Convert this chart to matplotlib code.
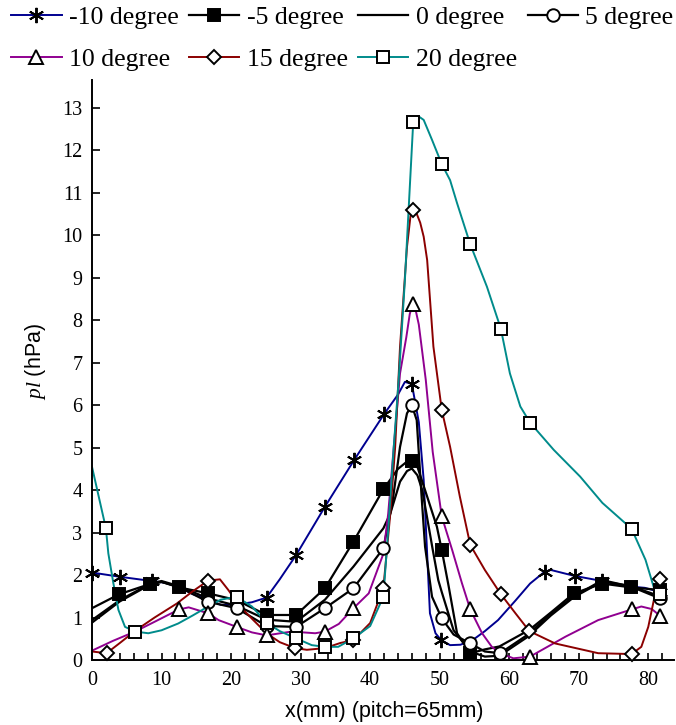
import matplotlib
matplotlib.use("Agg")
import matplotlib.pyplot as plt
from matplotlib.ticker import MultipleLocator

plt.rcParams['mathtext.fontset'] = 'custom'
plt.rcParams['mathtext.it'] = 'Liberation Serif:italic'
plt.rcParams['mathtext.rm'] = 'Liberation Sans'

# ---- pressure profiles, x in mm ----
# -10 degree
x_m10 = [0, 4, 8.6, 10.5, 12.5, 14.5, 16.7, 18.5, 20.6, 23, 25.1, 27, 29.35, 33.5, 37.7, 42, 44, 45, 46,
         47, 47.7, 48.6, 49.4, 50.2, 51.5, 53, 55, 56.5, 58.4, 60.9, 63, 65.1, 66, 69.4, 73.4, 76.7, 79.5, 81.7]
y_m10 = [2.06, 1.96, 1.86, 1.82, 1.72, 1.55, 1.42, 1.3, 1.3, 1.36, 1.47, 1.9, 2.47, 3.61, 4.71, 5.79, 6.25, 6.55, 6.5,
         5.6, 4.24, 1.1, 0.63, 0.47, 0.35, 0.36, 0.5, 0.68, 0.94, 1.4, 1.8, 2.08, 2.12, 1.98, 1.86, 1.74, 1.7, 1.6]
mx_m10 = [0, 4, 8.6, 25.1, 29.35, 33.5, 37.7, 42, 46, 50.2, 65.1, 69.4, 73.4, 81.7]
my_m10 = [2.06, 1.96, 1.86, 1.47, 2.47, 3.61, 4.71, 5.79, 6.5, 0.47, 2.08, 1.98, 1.86, 1.6]

# -5 degree
x_m5 = [0, 3.93, 8.35, 10, 12.5, 16.7, 20.8, 25.1, 29.35, 33.5, 37.6, 41.9, 44, 45.2, 46, 46.8, 47.9, 49.6, 50.3,
        51.3, 52.5, 54.4, 56.5, 58.6, 62.9, 66, 69.3, 73.4, 77.5, 81.7]
y_m5 = [1.22, 1.55, 1.79, 1.84, 1.71, 1.57, 1.41, 1.06, 1.06, 1.69, 2.79, 4.02, 4.5, 4.66, 4.69, 4.55, 4.0, 3.14, 2.59,
        1.73, 0.63, 0.16, 0.25, 0.32, 0.71, 1.12, 1.57, 1.8, 1.71, 1.65]
mx_m5 = [3.93, 8.35, 12.5, 16.7, 20.8, 25.1, 29.35, 33.5, 37.6, 41.9, 46, 50.3, 54.4, 69.3, 73.4, 77.5, 81.7]
my_m5 = [1.55, 1.79, 1.71, 1.57, 1.41, 1.06, 1.06, 1.69, 2.79, 4.02, 4.69, 2.59, 0.16, 1.57, 1.8, 1.71, 1.65]

# 0 degree
x_0 = [0, 4, 8.4, 10, 12.5, 16.7, 20.8, 25.1, 29.35, 33.5, 37.6, 41.9, 42.9, 44.3, 45.3, 46, 46.8, 47.5, 49, 49.8,
       50.3, 52, 54.4, 56.5, 58.6, 62.7, 66, 69.3, 73.4, 77.5, 81.7]
y_0 = [0.94, 1.41, 1.8, 1.86, 1.74, 1.45, 1.28, 0.95, 0.9, 1.42, 2.2, 3.1, 3.45, 4.2, 4.45, 4.51, 4.35, 4.0, 2.6, 1.88,
       1.6, 0.7, 0.2, 0.08, 0.1, 0.55, 1.05, 1.48, 1.85, 1.74, 1.5]

# 5 degree
x_5 = [0, 4, 8.4, 10, 12.5, 16.7, 20.8, 25.1, 29.35, 33.5, 37.6, 41.9, 43.2, 44.3, 45.3, 46, 46.7, 47.4, 47.9, 48.9,
       50.3, 52, 54.4, 56.5, 58.7, 62.7, 66, 69.3, 73.4, 77.5, 81.7]
y_5 = [0.88, 1.38, 1.78, 1.84, 1.72, 1.37, 1.22, 0.8, 0.78, 1.22, 1.69, 2.63, 3.7, 5.02, 5.81, 6.0, 5.65, 3.85, 2.67,
       1.49, 0.98, 0.6, 0.39, 0.2, 0.16, 0.6, 1.1, 1.5, 1.88, 1.73, 1.45]
mx_5 = [16.7, 20.8, 25.1, 29.35, 33.5, 37.6, 41.9, 46, 50.3, 54.4, 58.7, 81.7]
my_5 = [1.37, 1.22, 0.8, 0.78, 1.22, 1.69, 2.63, 6.0, 0.98, 0.39, 0.16, 1.45]

# 10 degree
x_10 = [0, 3, 6.2, 9, 12.5, 13.9, 16.7, 18.2, 20.8, 23, 25.1, 28.7, 32.1, 33.5, 35.5, 37.6, 39.8, 41.9, 42.6,
        43.4, 44.3, 45.2, 45.7, 46.1, 46.6, 47, 48, 49, 50.3, 51.8, 53.2, 54.4, 56.1, 57.5, 58.7, 60.6, 63, 68.1,
        72.8, 77.6, 79, 80.5, 81.7]
y_10 = [0.22, 0.45, 0.67, 0.9, 1.19, 1.24, 1.1, 0.94, 0.78, 0.65, 0.58, 0.67, 0.63, 0.67, 0.85, 1.22, 1.57, 2.5, 3.45,
        5.02, 6.75, 7.6, 8.15, 8.38, 8.2, 7.9, 6.6, 4.9, 3.38, 2.59, 1.81, 1.19, 0.63, 0.31, 0.16, 0.04, 0.08, 0.55,
        0.94, 1.19, 1.26, 1.2, 1.04]
mx_10 = [12.5, 16.7, 20.8, 25.1, 33.5, 37.6, 46.1, 50.3, 54.4, 63, 77.6, 81.7]
my_10 = [1.19, 1.1, 0.78, 0.58, 0.67, 1.22, 8.38, 3.38, 1.19, 0.08, 1.19, 1.04]

# 15 degree
x_15 = [0, 2.1, 4, 6.4, 9, 12.2, 14.5, 16.7, 18.4, 19.6, 21.3, 23.2, 25.1, 27, 29.2, 30.9, 33.5, 35.7, 37.6, 40,
        41.9, 42.9, 43.6, 44.3, 45.3, 45.8, 46.1, 46.6, 47.2, 47.7, 48.2, 49.1, 50.3, 51.5, 52.9, 54.4, 56.5, 58.8,
        60.9, 62.9, 66.6, 72.8, 77.6, 79, 80, 80.8, 81.7]
y_15 = [0.2, 0.16, 0.4, 0.71, 1.0, 1.33, 1.62, 1.87, 1.9, 1.65, 1.26, 0.94, 0.63, 0.42, 0.28, 0.24, 0.28, 0.4, 0.47,
        0.87, 1.69, 3.45, 5.02, 7.38, 9.73, 10.45, 10.61, 10.55, 10.3, 9.97, 9.42, 7.38, 5.89, 5.02, 3.85, 2.71, 2.12,
        1.55, 1.1, 0.68, 0.39, 0.16, 0.14, 0.31, 0.78, 1.41, 1.9]
mx_15 = [2.1, 16.7, 29.2, 37.6, 41.9, 46.1, 50.3, 54.4, 58.8, 62.9, 77.6, 81.7]
my_15 = [0.16, 1.87, 0.28, 0.47, 1.69, 10.61, 5.89, 2.71, 1.55, 0.68, 0.14, 1.9]

# 20 degree
x_20 = [0, 2.0, 2.35, 3.07, 3.8, 4.75, 6.2, 8.1, 10, 12.4, 14.5, 16.7, 18.5, 20.8, 23, 25.1, 27, 29.35, 31.6,
        33.5, 35.4, 37.6, 40, 41.9, 42.6, 43.4, 44.1, 45.0, 46.2, 47.0, 47.7, 48.9, 50.3, 51.5, 52.5, 54.4, 56.8,
        58.8, 60.1, 61.6, 63.0, 66.4, 70.2, 73.4, 77.6, 79.6, 81.0, 81.7]
y_20 = [4.55, 3.1, 2.51, 1.81, 1.18, 0.78, 0.67, 0.63, 0.7, 0.86, 1.05, 1.26, 1.42, 1.49, 1.26, 0.88, 0.68, 0.51,
        0.35, 0.31, 0.31, 0.51, 0.8, 1.49, 3.06, 5.02, 6.59, 8.95, 12.68, 12.8, 12.72, 12.25, 11.68, 11.3, 10.76,
        9.79, 8.79, 7.8, 6.75, 5.97, 5.59, 4.95, 4.32, 3.7, 3.09, 2.36, 1.6, 1.55]
mx_20 = [2.0, 6.2, 20.8, 25.1, 29.35, 33.5, 37.6, 41.9, 46.2, 50.3, 54.4, 58.8, 63.0, 77.6, 81.7]
my_20 = [3.1, 0.67, 1.49, 0.88, 0.51, 0.31, 0.51, 1.49, 12.68, 11.68, 9.79, 7.8, 5.59, 3.09, 1.55]

labels = ['-10 degree', '-5 degree', '0 degree', '5 degree', '10 degree', '15 degree', '20 degree']

fig = plt.figure(figsize=(6.76, 7.25), dpi=100)
ax = fig.add_axes([92 / 676, 65 / 725, 582 / 676, 580 / 725])

mew = 1.4

def series(x, y, mx, my, color, lw, marker, face, size, label):
    ax.plot(x, y, color=color, lw=lw, zorder=2)
    if mx is not None:
        ax.plot(mx, my, ls='none', marker=marker, ms=size, mec='black', mfc=face, mew=mew,
                zorder=3, clip_on=False)
    # legend proxy
    return ax.plot([], [], color=color, lw=lw, marker=marker if mx is not None else None,
                   ms=size, mec='black', mfc=face, mew=mew, label=label)[0]

star = (6, 2, 0)
h = []
h.append(series(x_m10, y_m10, mx_m10, my_m10, '#000090', 1.4, star, 'black', 11, labels[0]))
h.append(series(x_m5, y_m5, mx_m5, my_m5, 'black', 1.6, 's', 'black', 9, labels[1]))
h.append(series(x_0, y_0, None, None, 'black', 1.6, None, 'none', 9, labels[2]))
h.append(series(x_5, y_5, mx_5, my_5, 'black', 1.6, 'o', 'white', 9, labels[3]))
h.append(series(x_10, y_10, mx_10, my_10, '#900090', 1.4, '^', 'white', 9.5, labels[4]))
h.append(series(x_15, y_15, mx_15, my_15, '#8b0000', 1.4, 'D', 'white', 7, labels[5]))
h.append(series(x_20, y_20, mx_20, my_20, '#008b8b', 1.4, 's', 'white', 9, labels[6]))

ax.set_xlim(0, 83.7)
ax.set_ylim(0, 13.66)
ax.spines['top'].set_visible(False)
ax.spines['right'].set_visible(False)
for s in ('left', 'bottom'):
    ax.spines[s].set_linewidth(1.4)

ax.xaxis.set_major_locator(MultipleLocator(10))
ax.xaxis.set_minor_locator(MultipleLocator(2))
ax.yaxis.set_major_locator(MultipleLocator(1))
ax.tick_params(axis='both', which='both', direction='in', width=1.2)
ax.tick_params(axis='x', which='major', length=5, pad=8)
ax.tick_params(axis='x', which='minor', length=5)
ax.tick_params(axis='y', which='major', length=6, pad=7)
for t in ax.get_xticklabels() + ax.get_yticklabels():
    t.set_fontfamily('Liberation Serif')
    t.set_fontsize(14.5)

fig.text(384 / 676, 1 - 712 / 725, 'x(mm) (pitch=65mm)', family='Liberation Sans', fontsize=15.5,
         ha='center', va='center')
fig.text(35 / 676, 1 - 361 / 725, r'$\mathit{pl}$ (hPa)', family='Liberation Sans', fontsize=15.5,
         ha='center', va='center', rotation=90)

order = [h[0], h[4], h[1], h[5], h[2], h[6], h[3]]
fig.legend(order, [o.get_label() for o in order], loc='upper left', bbox_to_anchor=(5 / 676, 1.0),
           ncol=4, frameon=False, prop={'family': 'Liberation Serif', 'size': 18.5},
           handlelength=1.95, handletextpad=0.3, columnspacing=0.4, labelspacing=0.72,
           borderpad=0.25, borderaxespad=0)

fig.savefig('out.png', dpi=100)
